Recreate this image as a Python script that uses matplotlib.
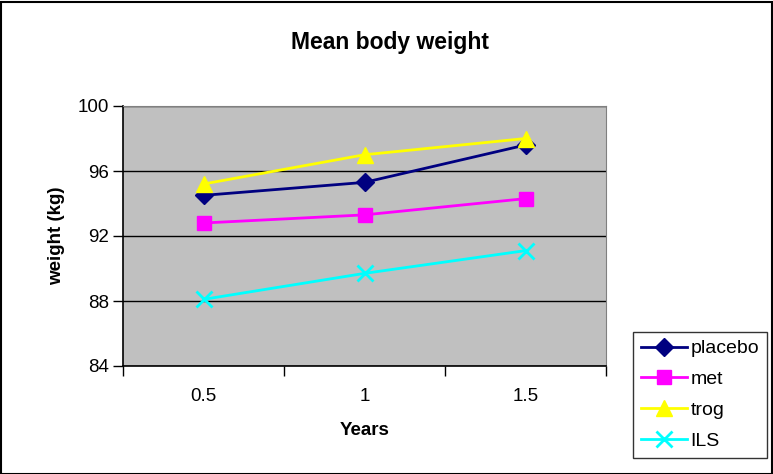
import numpy as np
import matplotlib.pyplot as plt
from matplotlib.patches import Rectangle

plt.rcParams['font.family'] = ['Liberation Sans', 'DejaVu Sans']

# Data
years = ['0.5', '1', '1.5']
placebo = [94.5, 95.3, 97.6]
met = [92.8, 93.3, 94.3]
trog = [95.2, 97.0, 98.0]
ils = [88.1, 89.7, 91.1]

fig = plt.figure(figsize=(7.73, 4.74), dpi=100)
ax = fig.add_axes([123 / 773, 1 - 366 / 474, 483 / 773, 260 / 474])
ax.set_facecolor('#C0C0C0')

x = np.arange(len(years))
ax.plot(x, placebo, color='#000080', marker='D', markersize=9, lw=2, label='placebo')
ax.plot(x, met, color='#FF00FF', marker='s', markersize=10, lw=2, label='met')
ax.plot(x, trog, color='#FFFF00', marker='^', markersize=11, lw=2, label='trog')
ax.plot(x, ils, color='#00FFFF', marker='x', markersize=11, mew=2, lw=2, label='ILS')

ax.set_xlim(-0.5, len(years) - 0.5)
ax.set_ylim(84, 100)
ax.set_yticks([84, 88, 92, 96, 100])
ax.set_xticks(x)
ax.set_xticklabels(years)
ax.set_xticks(np.arange(-0.5, len(years)), minor=True)
ax.tick_params(axis='x', which='major', length=0, pad=16, labelsize=13.5)
ax.tick_params(axis='x', which='minor', length=7, width=1, direction='out')
ax.tick_params(axis='y', length=7, width=1, direction='out', labelsize=13.5, pad=3)
ax.yaxis.grid(True, color='black', lw=1)
ax.set_axisbelow(True)

for side in ['top', 'right']:
    ax.spines[side].set_color('#808080')
for side in ['left', 'bottom']:
    ax.spines[side].set_color('black')
    ax.spines[side].set_linewidth(1.2)

ax.set_xlabel('Years', fontsize=13.5, fontweight='bold', labelpad=12)
ax.set_ylabel('weight (kg)', fontsize=13.5, fontweight='bold', labelpad=9)
fig.text(0.505, 1 - 43 / 474, 'Mean body weight', ha='center', va='center',
         fontsize=16.5, fontweight='bold')

leg = fig.legend(loc='upper left', bbox_to_anchor=(633 / 773, 1 - 332 / 474),
                 fontsize=14, frameon=True, fancybox=False, edgecolor='black',
                 handlelength=2.4, borderpad=0.4, labelspacing=0.68,
                 handletextpad=0.15, borderaxespad=0)
leg.get_frame().set_linewidth(1)

fig.patches.append(Rectangle((0.5 / 773, 0.5 / 474), 1 - 2 / 773, 1 - 2 / 474,
                             transform=fig.transFigure, fill=False,
                             edgecolor='black', lw=1.5))

fig.savefig('out.png', dpi=100)
